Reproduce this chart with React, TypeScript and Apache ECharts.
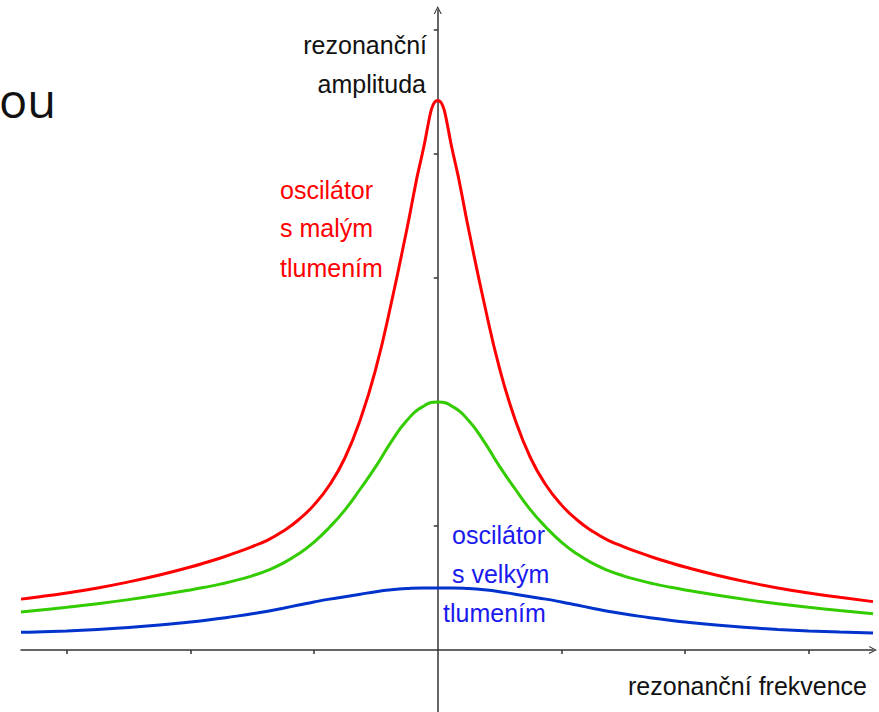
import React, { useEffect, useRef } from "react";
import * as echarts from "echarts";

// Shared frequency grid (axis units, resonance at 0)
const freq = [
  -3.37, -3.25, -3, -2.75, -2.5, -2.25, -2, -1.875, -1.75, -1.625, -1.5, -1.375, -1.25, -1.125, -1, -0.875, -0.75, -0.625, -0.5, -0.375, -0.25, -0.125,
  0,
  0.125, 0.25, 0.375, 0.5, 0.625, 0.75, 0.875, 1, 1.125, 1.25, 1.375, 1.5, 1.625, 1.75, 1.875, 2, 2.25, 2.5, 2.75, 3, 3.25, 3.52,
];

// oscilátor s malým tlumením (red)
const redAmp = [
  0.41, 0.425, 0.46, 0.5, 0.549, 0.605, 0.669, 0.705, 0.744, 0.787, 0.834, 0.886, 0.958, 1.05, 1.17, 1.33, 1.55, 1.86, 2.27, 2.8, 3.39, 4.0,
  4.43,
  4.0, 3.39, 2.8, 2.27, 1.86, 1.55, 1.33, 1.17, 1.05, 0.958, 0.886, 0.834, 0.787, 0.744, 0.705, 0.669, 0.605, 0.549, 0.5, 0.46, 0.425, 0.39,
];
// middle damping (green)
const greenAmp = [
  0.307, 0.318, 0.344, 0.373, 0.406, 0.443, 0.484, 0.507, 0.533, 0.563, 0.598, 0.642, 0.7, 0.775, 0.87, 0.99, 1.13, 1.3, 1.48, 1.68, 1.85, 1.96,
  2.0,
  1.96, 1.85, 1.68, 1.48, 1.3, 1.13, 0.99, 0.87, 0.775, 0.7, 0.642, 0.598, 0.563, 0.533, 0.507, 0.484, 0.443, 0.406, 0.373, 0.344, 0.318, 0.292,
];
// oscilátor s velkým tlumením (blue)
const blueAmp = [
  0.142, 0.145, 0.154, 0.166, 0.181, 0.201, 0.226, 0.24, 0.256, 0.273, 0.292, 0.313, 0.337, 0.362, 0.387, 0.41, 0.43, 0.45, 0.47, 0.485, 0.495, 0.5,
  0.5,
  0.5, 0.495, 0.485, 0.47, 0.45, 0.43, 0.41, 0.387, 0.362, 0.337, 0.313, 0.292, 0.273, 0.256, 0.24, 0.226, 0.201, 0.181, 0.166, 0.154, 0.145, 0.137,
];

const xTicks = [-3, -2, -1, 1, 2, 3];
const yTicks = [1, 2, 3, 4, 5];

const FONT = "'Liberation Sans', Arial, sans-serif";
const chevron = "path://M0,10 L5,0 L10,10 L8.6,10 L5,2.8 L1.4,10 Z";

export default function App() {
  const ref = useRef<HTMLDivElement>(null);
  useEffect(() => {
    document.body.style.margin = "0";
    const chart = echarts.init(ref.current!, null, { renderer: "svg" });
    const pairs = (ys: number[]) => freq.map((x, i) => [x, ys[i]]);
    const lineSeries = (name: string, ys: number[], color: string) => ({
      name,
      type: "line",
      data: pairs(ys),
      smooth: 0.5,
      showSymbol: false,
      lineStyle: { color, width: 3 },
      z: 3,
    });
    const txt = (text: string, x: number, y: number, color: string, align: string, size = 25, family = FONT) => ({
      type: "text",
      x,
      y,
      style: { text, fill: color, font: `${size}px ${family}`, textAlign: align, textVerticalAlign: "middle" },
      z: 10,
    });
    chart.setOption({
      animation: false,
      grid: { left: 21, right: 6, top: 10, bottom: 0 },
      xAxis: {
        type: "value",
        min: -3.37,
        max: 3.52,
        axisLine: {
          onZero: true,
          lineStyle: { color: "#333", width: 1.5 },
          symbol: ["none", chevron],
          symbolSize: [8, 8],
        },
        axisTick: { show: true, length: 4, customValues: xTicks, lineStyle: { color: "#333", width: 1.5 } },
        axisLabel: { show: false },
        splitLine: { show: false },
      },
      yAxis: {
        type: "value",
        min: -0.5,
        max: 5.16,
        axisLine: {
          onZero: true,
          lineStyle: { color: "#333", width: 1.5 },
          symbol: ["none", chevron],
          symbolSize: [8, 8],
        },
        axisTick: { show: true, length: 4, customValues: yTicks, lineStyle: { color: "#333", width: 1.5 } },
        axisLabel: { show: false },
        splitLine: { show: false },
      },
      series: [
        lineSeries("oscilátor s malým tlumením", redAmp, "#ff0000"),
        lineSeries("střední tlumení", greenAmp, "#33cc00"),
        lineSeries("oscilátor s velkým tlumením", blueAmp, "#0033cc"),
      ],
      graphic: [
        txt("ou", -1, 100, "#111", "left", 47, "'Open Sans', 'Noto Sans', sans-serif"),
        txt("rezonanční", 427, 45, "#111", "right"),
        txt("amplituda", 426, 84, "#111", "right"),
        txt("oscilátor", 280, 190, "#ff0000", "left"),
        txt("s malým", 280, 228, "#ff0000", "left"),
        txt("tlumením", 280, 268, "#ff0000", "left"),
        txt("oscilátor", 452, 535, "#1a1aee", "left"),
        txt("s velkým", 452, 574, "#1a1aee", "left"),
        txt("tlumením", 443, 613, "#1a1aee", "left"),
        txt("rezonanční frekvence", 628, 686, "#111", "left"),
      ],
    });
    return () => chart.dispose();
  }, []);
  return <div ref={ref} style={{ width: 879, height: 712 }} />;
}
